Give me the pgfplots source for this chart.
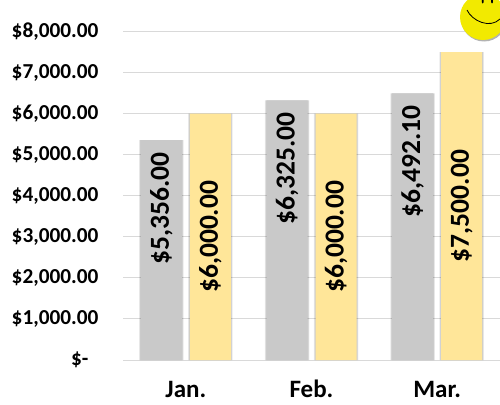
\documentclass[border=0pt]{standalone}
\usepackage{fontspec}
\setmainfont{Carlito}
\usepackage{pgfplots}
\usepackage{pgfplotstable}
\pgfplotsset{compat=1.18}
\definecolor{barG}{HTML}{C9C9C9}
\definecolor{barY}{HTML}{FFE699}
\definecolor{gridc}{HTML}{D9D9D9}
\definecolor{smile}{HTML}{F2EA00}
\tikzset{lab/.style={rotate=90,font=\bfseries\fontsize{27.5bp}{29bp}\selectfont,black,inner sep=0pt}}
\pgfplotstableread{
x v
0 5356
1 6325
2 6492.1
}\grey
\pgfplotstableread{
x v
0 6000
1 6000
2 7500
}\yel
\begin{document}
\begin{tikzpicture}[x=1bp,y=1bp]
\path[use as bounding box] (0,0) rectangle (500,404);
\begin{axis}[
  at={(123bp,44bp)},
  anchor=south west,
  scale only axis,
  width=377bp, height=328.5bp,
  xmin=-0.5, xmax=2.5, ymin=0, ymax=8000,
  axis x line=bottom, axis y line=left,
  x axis line style={draw=gridc,-}, y axis line style={draw=none},
  xtick={0,1,2}, xticklabels={Jan.,Feb.,Mar.},
  ytick={0,1000,...,8000},
  yticklabels={{\$-\hspace*{10bp}},{\$1,000.00},{\$2,000.00},{\$3,000.00},{\$4,000.00},{\$5,000.00},{\$6,000.00},{\$7,000.00},{\$8,000.00}},
  major tick length=0pt,
  ymajorgrids, grid style={gridc,line width=1pt},
  tick label style={font=\bfseries\fontsize{21.3bp}{23bp}\selectfont,black},
  xticklabel style={font=\bfseries\fontsize{25bp}{27bp}\selectfont,yshift=-20bp,text height=17bp,text depth=1bp,inner sep=0pt},
  yticklabel style={xshift=-21bp},
  clip=false,
  ybar,
]
\pgfplotsinvokeforeach{44.5,43.5,42.5}{
\addplot[forget plot, bar shift=-24.5bp, bar width=#1bp, draw=none, fill=black, fill opacity=0.07] table[x=x,y=v] {\grey};
\addplot[forget plot, bar shift=24.5bp, bar width=#1bp, draw=none, fill=black, fill opacity=0.07] table[x=x,y=v] {\yel};
}
\addplot[bar shift=-24.5bp, bar width=41bp, draw=none, fill=barG] table[x=x,y=v] {\grey};
\addplot[bar shift=24.5bp, bar width=41bp, draw=none, fill=barY] table[x=x,y=v] {\yel};
\addplot[forget plot, draw=none, bar shift=-24.5bp, bar width=41bp, fill=none, point meta=explicit symbolic,
  nodes near coords, nodes near coords align={anchor=center},
  nodes near coords style={yshift=-12bp, lab, anchor=east}]
  coordinates {(0,5356)[{\$5,356.00}] (1,6325)[{\$6,325.00}] (2,6492.1)[{\$6,492.10}]};
\addplot[forget plot, draw=none, bar shift=24.5bp, bar width=41bp, fill=none, point meta=explicit symbolic,
  nodes near coords, nodes near coords align={anchor=center},
  nodes near coords style={yshift=-123.2bp, lab, anchor=center}]
  coordinates {(0,6000)[{\$6,000.00}] (1,6000)[{\$6,000.00}]};
\addplot[forget plot, draw=none, bar shift=24.5bp, bar width=41bp, fill=none, point meta=explicit symbolic,
  nodes near coords, nodes near coords align={anchor=center},
  nodes near coords style={yshift=-154bp, lab, anchor=center}]
  coordinates {(2,7500)[{\$7,500.00}]};
\end{axis}
\begin{scope}
\clip (0,0) rectangle (500,404);
\fill[black!30] (484,385.5) circle (23);
\fill[smile] (483,387) circle (23);
\draw[black,line width=0.8bp] (467,394) .. controls (472,383) and (490,375) .. (500,385);
\fill[black] (482.7,403) ellipse (1 and 2.5);
\fill[black] (492,403) ellipse (1 and 2.5);
\end{scope}
\end{tikzpicture}
\end{document}
